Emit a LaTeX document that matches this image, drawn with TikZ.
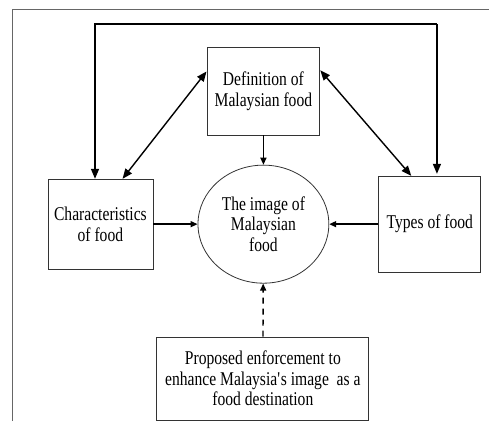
\documentclass[tikz,border=0pt]{standalone}
\usepackage{fontspec}
\setmainfont{Liberation Serif}[FakeStretch=0.8]
\usetikzlibrary{shapes.geometric,arrows.meta}

\begin{document}
\begin{tikzpicture}

    \tikzset{caja/.style = {shape=rectangle,draw=black!80,line width=0.8pt,align=center,inner sep=0pt,font=\fontsize{19.5}{20.5}\selectfont}}
    \tikzset{imagen/.style = {shape=ellipse,draw=black!80,line width=0.8pt,align=center,inner sep=0pt,font=\fontsize{19.5}{20.5}\selectfont}}
    \tikzset{flecha/.style = {-{Triangle[length=10pt,width=8pt]},line width=1.5pt}}
    \tikzset{flechita/.style = {-{Triangle[length=7pt,width=6pt]},line width=1.4pt}}
    \tikzset{doble/.style = {{Triangle[length=10pt,width=8pt]}-{Triangle[length=10pt,width=8pt]},line width=1.4pt}}

    \useasboundingbox (0,0) rectangle (17.19,14.80);

    % marco
    \draw [black!60,line width=0.7pt] (0.42,0) -- (0.42,14.48) -- (17.19,14.48);

    \node [imagen,minimum width=4.60cm,minimum height=4.15cm] (imagen) at (9.26,6.92) {The image of\\Malaysian\\food};

    \node [caja,minimum width=3.97cm,minimum height=3.09cm] (definicion) at (9.26,11.60) {Definition of\\Malaysian food};
    \draw [flechita] (definicion)
        to (imagen);

    \node [caja,minimum width=3.69cm,minimum height=3.16cm] (caracteristicas) at (3.53,6.92) {Characteristics\\of food};
    \draw [flechita] (caracteristicas)
        to (imagen);

    \node [caja,minimum width=3.59cm,minimum height=3.37cm] (tipos) at (15.11,6.92) {Types of food};
    \draw [flechita] (tipos)
        to (imagen);

    %relaciones con la definicion
    \draw [doble] (caracteristicas.64)
        to (definicion.161);
    \draw [doble] (definicion.20)
        to (tipos.111);

    %linea de arriba
    \coordinate (izq) at (3.34,13.95);
    \coordinate (der) at (15.36,13.95);
    \draw [flecha] (der)
        -- (izq)
        -- (izq |- caracteristicas.north);
    \draw [flecha] (der)
        -- ([yshift=2pt]der |- tipos.north);

    \node [caja,minimum width=7.45cm,minimum height=2.92cm] (propuesta) at (9.24,1.49) {Proposed enforcement to\\enhance Malaysia\textquotesingle s image \ as a\\food destination};
    \draw [flechita,dash pattern=on 6pt off 5pt] (propuesta)
        to (imagen);

\end{tikzpicture}
\end{document}
